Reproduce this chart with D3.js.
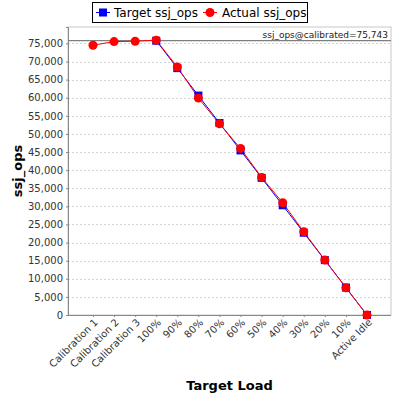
<!DOCTYPE html>
<html>
<head>
<meta charset="utf-8">
<script src="https://cdn.jsdelivr.net/npm/d3@7"></script>
<style>
  body { margin: 0; background: #fff; }
  text { font-family: "DejaVu Sans", sans-serif; }
</style>
</head>
<body>
<div id="chart"></div>
<script>
// Chart data
const categories = ["Calibration 1", "Calibration 2", "Calibration 3", "100%", "90%", "80%", "70%",
  "60%", "50%", "40%", "30%", "20%", "10%", "Active Idle"];
const targetOps = [null, null, null, 75743, 68169, 60594, 53020, 45446, 37872, 30297, 22723, 15149, 7574, 0];
const actualOps = [74500, 75500, 75600, 75900, 68500, 59900, 52800, 46000, 38000, 31000, 23000, 15200, 7500, 0];
const calibrated = 75743;
const yTicks = [0, 5000, 10000, 15000, 20000, 25000, 30000, 35000, 40000, 45000, 50000, 55000, 60000, 65000, 70000, 75000];

const width = 400;
const height = 400;
const margin = { top: 27, right: 9, bottom: 85, left: 68 };

const svg = d3.select("#chart")
  .append("svg")
  .attr("width", width)
  .attr("height", height);

const x = d3.scalePoint()
  .domain(categories)
  .range([margin.left + 25, width - margin.right - 24]);

const y = d3.scaleLinear()
  .domain([0, calibrated * 1.05])
  .range([height - margin.bottom, margin.top]);

// plot background + border
svg.append("rect")
  .attr("x", margin.left)
  .attr("y", margin.top)
  .attr("width", width - margin.right - margin.left)
  .attr("height", height - margin.bottom - margin.top)
  .attr("fill", "#fff")
  .attr("stroke", "#c8c8c8");

// gridlines
svg.append("g")
  .selectAll("line")
  .data(yTicks.filter(d => d > 0))
  .join("line")
  .attr("x1", margin.left)
  .attr("x2", width - margin.right)
  .attr("y1", d => Math.round(y(d)) + 0.5)
  .attr("y2", d => Math.round(y(d)) + 0.5)
  .attr("stroke", "#d4d4d4")
  .attr("stroke-dasharray", "2,2");

// y axis
const yAxis = svg.append("g")
  .attr("transform", `translate(${margin.left},0)`)
  .call(d3.axisLeft(y).tickValues(yTicks).tickFormat(d3.format(",")).tickSize(2).tickPadding(3));
yAxis.select(".domain").attr("stroke", "#888");
yAxis.selectAll(".tick line").attr("stroke", "#888");
yAxis.selectAll("text").attr("font-size", 10).attr("fill", "#333");

// x axis
const xAxis = svg.append("g")
  .attr("transform", `translate(0,${height - margin.bottom})`)
  .call(d3.axisBottom(x).tickSize(2).tickSizeOuter(0));
xAxis.select(".domain").attr("stroke", "#888")
  .attr("d", `M${margin.left},0.5H${width - margin.right}`);
xAxis.selectAll(".tick line").attr("stroke", "#888");
xAxis.selectAll("text")
  .attr("font-size", 10)
  .attr("fill", "#333")
  .attr("text-anchor", "end")
  .attr("x", 0)
  .attr("y", 0)
  .attr("dx", 0)
  .attr("dy", 0)
  .attr("transform", "translate(5,8) rotate(-45)");

// calibration line
svg.append("line")
  .attr("x1", margin.left)
  .attr("x2", width - margin.right)
  .attr("y1", y(calibrated))
  .attr("y2", y(calibrated))
  .attr("stroke", "#808080")
  .attr("stroke-width", 1.2);

svg.append("text")
  .attr("x", width - margin.right - 3)
  .attr("y", y(calibrated) - 3)
  .attr("text-anchor", "end")
  .attr("font-size", 9)
  .attr("fill", "#222")
  .text("ssj_ops@calibrated=" + d3.format(",")(calibrated));

// lines
const line = d3.line()
  .defined(d => d.v !== null)
  .x(d => x(d.c))
  .y(d => y(d.v));

const targetData = categories.map((c, i) => ({ c: c, v: targetOps[i] }));
const actualData = categories.map((c, i) => ({ c: c, v: actualOps[i] }));

svg.append("path")
  .datum(targetData)
  .attr("d", line)
  .attr("fill", "none")
  .attr("stroke", "blue")
  .attr("stroke-width", 1);

svg.append("path")
  .datum(actualData)
  .attr("d", line)
  .attr("fill", "none")
  .attr("stroke", "red")
  .attr("stroke-width", 1);

svg.append("g")
  .selectAll("rect")
  .data(targetData.filter(d => d.v !== null))
  .join("rect")
  .attr("x", d => x(d.c) - 4)
  .attr("y", d => y(d.v) - 4)
  .attr("width", 8)
  .attr("height", 8)
  .attr("fill", "blue");

svg.append("g")
  .selectAll("circle")
  .data(actualData)
  .join("circle")
  .attr("cx", d => x(d.c))
  .attr("cy", d => y(d.v))
  .attr("r", 4.5)
  .attr("fill", "red");

// axis titles
svg.append("text")
  .attr("x", (margin.left + width - margin.right) / 2)
  .attr("y", 390)
  .attr("text-anchor", "middle")
  .attr("font-size", 13)
  .attr("font-weight", "bold")
  .text("Target Load");

svg.append("text")
  .attr("transform", "rotate(-90)")
  .attr("x", -(margin.top + height - margin.bottom) / 2)
  .attr("y", 22)
  .attr("text-anchor", "middle")
  .attr("font-size", 13)
  .attr("font-weight", "bold")
  .text("ssj_ops");

// legend
const legend = svg.append("g");
legend.append("rect")
  .attr("x", 92.5)
  .attr("y", 2.5)
  .attr("width", 215)
  .attr("height", 20)
  .attr("fill", "#fff")
  .attr("stroke", "#000");

legend.append("line").attr("x1", 96).attr("x2", 110).attr("y1", 12.5).attr("y2", 12.5).attr("stroke", "blue");
legend.append("rect").attr("x", 99).attr("y", 8.5).attr("width", 8).attr("height", 8).attr("fill", "blue");
legend.append("text").attr("x", 114).attr("y", 17).attr("font-size", 12).text("Target ssj_ops");

legend.append("line").attr("x1", 203).attr("x2", 217).attr("y1", 12.5).attr("y2", 12.5).attr("stroke", "red");
legend.append("circle").attr("cx", 210).attr("cy", 12.5).attr("r", 4.5).attr("fill", "red");
legend.append("text").attr("x", 222).attr("y", 17).attr("font-size", 12).text("Actual ssj_ops");
</script>
</body>
</html>
